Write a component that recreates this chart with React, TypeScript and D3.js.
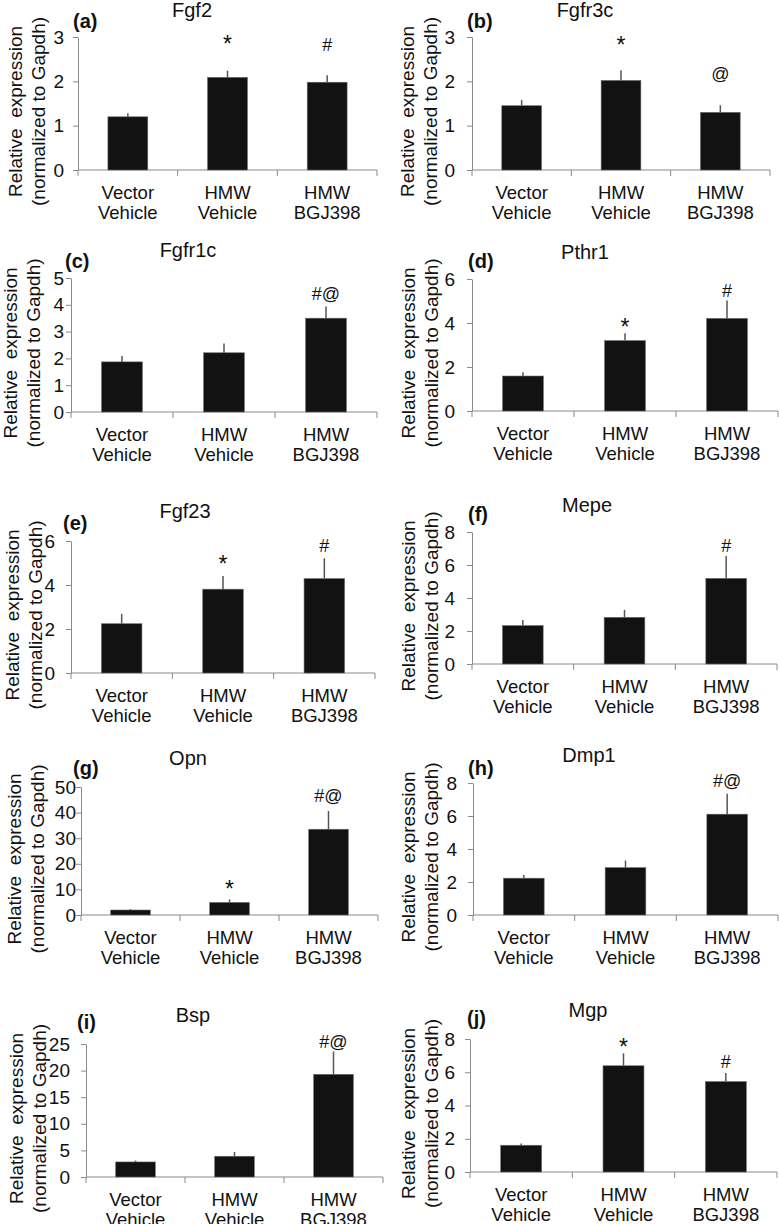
import { useEffect, useRef } from 'react';
import * as d3 from 'd3';

// groups on the x axis (two-line labels)
const groups = ['Vector Vehicle', 'HMW Vehicle', 'HMW BGJ398'];
const groupLines = [['Vector', 'Vehicle'], ['HMW', 'Vehicle'], ['HMW', 'BGJ398']];

const genes = ['Fgf2', 'Fgfr3c', 'Fgfr1c', 'Pthr1', 'Fgf23', 'Mepe', 'Opn', 'Dmp1', 'Bsp', 'Mgp'];
const tags = ['(a)', '(b)', '(c)', '(d)', '(e)', '(f)', '(g)', '(h)', '(i)', '(j)'];

// mean relative expression per group
const means = [
  [1.2, 2.09, 1.98],
  [1.45, 2.02, 1.3],
  [1.87, 2.21, 3.5],
  [1.59, 3.2, 4.21],
  [2.24, 3.81, 4.29],
  [2.33, 2.83, 5.19],
  [1.95, 4.9, 33.5],
  [2.23, 2.87, 6.11],
  [2.83, 3.9, 19.3],
  [1.61, 6.39, 5.44],
];

// upper error (SEM)
const errors = [
  [0.08, 0.15, 0.16],
  [0.13, 0.23, 0.16],
  [0.22, 0.35, 0.44],
  [0.17, 0.33, 0.81],
  [0.45, 0.6, 0.92],
  [0.34, 0.45, 1.36],
  [0.35, 1.2, 7.1],
  [0.2, 0.43, 1.24],
  [0.27, 0.8, 4.3],
  [0.1, 0.75, 0.51],
];

const yMax = [3, 3, 5, 6, 6, 8, 50, 8, 25, 8];
const yStep = [1, 1, 1, 2, 2, 2, 10, 2, 5, 2];

// significance marks and the value level they sit at
const marks = [
  ['', '*', '#'],
  ['', '*', '@'],
  ['', '', '#@'],
  ['', '*', '#'],
  ['', '*', '#'],
  ['', '', '#'],
  ['', '*', '#@'],
  ['', '', '#@'],
  ['', '', '#@'],
  ['', '*', '#'],
];
const markLevels = [
  [0, 2.72, 2.68],
  [0, 2.71, 2.03],
  [0, 0, 4.18],
  [0, 3.59, 5.18],
  [0, 4.73, 5.5],
  [0, 0, 6.79],
  [0, 8.2, 44.1],
  [0, 0, 7.76],
  [0, 0, 24.2],
  [0, 7.23, 6.27],
];

// page layout of each panel
const layout = [
  { left: 78, right: 377, top: 37, bottom: 170, pad: 9, labelX: 15, titleX: 192, titleY: 17, tagX: 73, tagY: 28 },
  { left: 472, right: 770, top: 37, bottom: 170, pad: 12, labelX: 407, titleX: 585, titleY: 17, tagX: 467, tagY: 28 },
  { left: 71, right: 377, top: 278, bottom: 412, pad: 2, labelX: 10, titleX: 188, titleY: 257, tagX: 65, tagY: 268 },
  { left: 472, right: 778, top: 279, bottom: 411, pad: 12, labelX: 408, titleX: 585, titleY: 259, tagX: 468, tagY: 268 },
  { left: 71, right: 375, top: 541, bottom: 673, pad: 11, labelX: 12, titleX: 185, titleY: 518, tagX: 63, tagY: 530 },
  { left: 472, right: 777, top: 532, bottom: 664, pad: 12, labelX: 408, titleX: 587, titleY: 512, tagX: 468, tagY: 521 },
  { left: 81, right: 378, top: 787, bottom: 915, pad: 0, labelX: 14, titleX: 188, titleY: 765, tagX: 73, tagY: 775 },
  { left: 473, right: 778, top: 783, bottom: 915, pad: 11, labelX: 408, titleX: 589, titleY: 762, tagX: 468, tagY: 775 },
  { left: 86, right: 383, top: 1044, bottom: 1177, pad: 11, labelX: 16, titleX: 193, titleY: 1022, tagX: 77, tagY: 1029 },
  { left: 470, right: 777, top: 1039, bottom: 1172, pad: 10, labelX: 408, titleX: 588, titleY: 1017, tagX: 467, tagY: 1025 },
];

const FONT = '"Liberation Sans", Arial, Helvetica, sans-serif';
const AXIS = '#8a8a8a';

export default function App() {
  const ref = useRef<SVGSVGElement>(null);

  useEffect(() => {
    if (!ref.current) return;
    const svg = d3.select(ref.current);
    svg.selectAll('*').remove();
    svg.style('font-family', FONT);

    genes.forEach((gene, i) => {
      const L = layout[i];
      const g = svg.append('g');

      const x = d3.scaleBand<string>()
        .domain(groups)
        .range([L.left, L.right])
        .paddingInner(0.6)
        .paddingOuter(0.3);

      const y = d3.scaleLinear()
        .domain([0, yMax[i]])
        .range([L.bottom, L.top]);

      // y axis
      const yAxis = g.append('g')
        .attr('transform', `translate(${L.left},0)`)
        .call(d3.axisLeft(y)
          .tickValues(d3.range(0, yMax[i] + yStep[i] / 2, yStep[i]))
          .tickFormat(d3.format('d'))
          .tickSize(5)
          .tickSizeOuter(0)
          .tickPadding(L.pad));
      yAxis.select('.domain').attr('stroke', AXIS);
      yAxis.selectAll('.tick line').attr('stroke', AXIS);
      yAxis.selectAll('.tick text')
        .attr('fill', '#111')
        .style('font-size', '19px')
        .style('font-family', FONT);

      // x axis with boundary ticks
      const bounds = [L.left, ...groups.map(d => (x(d) as number) + x.bandwidth() / 2 + x.step() / 2)];
      g.append('line')
        .attr('x1', L.left).attr('x2', bounds[3])
        .attr('y1', L.bottom).attr('y2', L.bottom)
        .attr('stroke', AXIS);
      g.selectAll('.xt')
        .data(bounds)
        .enter().append('line')
        .attr('x1', d => d).attr('x2', d => d)
        .attr('y1', L.bottom).attr('y2', L.bottom + 6)
        .attr('stroke', AXIS);

      // category labels
      groupLines.forEach((lines, k) => {
        const cx = (x(groups[k]) as number) + x.bandwidth() / 2;
        lines.forEach((t, j) => {
          g.append('text')
            .attr('x', cx)
            .attr('y', L.bottom + 29 + j * 20)
            .attr('text-anchor', 'middle')
            .style('font-size', '18.5px')
            .attr('fill', '#111')
            .text(t);
        });
      });

      // error bars (drawn behind the bars)
      g.selectAll('.err')
        .data(means[i])
        .enter().append('line')
        .attr('x1', (_, k) => (x(groups[k]) as number) + x.bandwidth() / 2)
        .attr('x2', (_, k) => (x(groups[k]) as number) + x.bandwidth() / 2)
        .attr('y1', d => y(d))
        .attr('y2', (d, k) => y(d + errors[i][k]))
        .attr('stroke', '#555')
        .attr('stroke-width', 1.5);

      // bars
      g.selectAll('.bar')
        .data(means[i])
        .enter().append('rect')
        .attr('x', (_, k) => x(groups[k]) as number)
        .attr('width', x.bandwidth())
        .attr('y', d => y(d))
        .attr('height', d => L.bottom - y(d))
        .attr('fill', '#121212')
        .attr('stroke', '#6a6a6a')
        .attr('stroke-width', 0.6);

      // significance marks
      marks[i].forEach((m, k) => {
        if (!m) return;
        const star = m === '*';
        g.append('text')
          .attr('x', (x(groups[k]) as number) + x.bandwidth() / 2)
          .attr('y', y(markLevels[i][k]) + (star ? 3 : 0))
          .attr('text-anchor', 'middle')
          .style('font-size', star ? '23px' : '18px')
          .attr('fill', '#111')
          .text(m);
      });

      // y axis title, two lines
      const midY = (L.top + L.bottom) / 2 + 8;
      ['Relative  expression', '(normalized to Gapdh)'].forEach((t, j) => {
        g.append('text')
          .attr('transform', `translate(${L.labelX + j * 23},${midY}) rotate(-90)`)
          .attr('text-anchor', 'middle')
          .attr('dominant-baseline', 'central')
          .style('font-size', '19px')
          .style('white-space', 'pre')
          .attr('fill', '#111')
          .text(t);
      });

      // gene title and panel tag
      g.append('text')
        .attr('x', L.titleX)
        .attr('y', L.titleY)
        .attr('text-anchor', 'middle')
        .style('font-size', '20px')
        .attr('fill', '#111')
        .text(gene);
      g.append('text')
        .attr('x', L.tagX)
        .attr('y', L.tagY)
        .style('font-size', '20px')
        .style('font-weight', 'bold')
        .attr('fill', '#111')
        .text(tags[i]);
    });
  }, []);

  return (
    <svg
      ref={ref}
      width={779}
      height={1224}
      style={{ position: 'absolute', left: 0, top: 0, background: '#fff' }}
    />
  );
}
